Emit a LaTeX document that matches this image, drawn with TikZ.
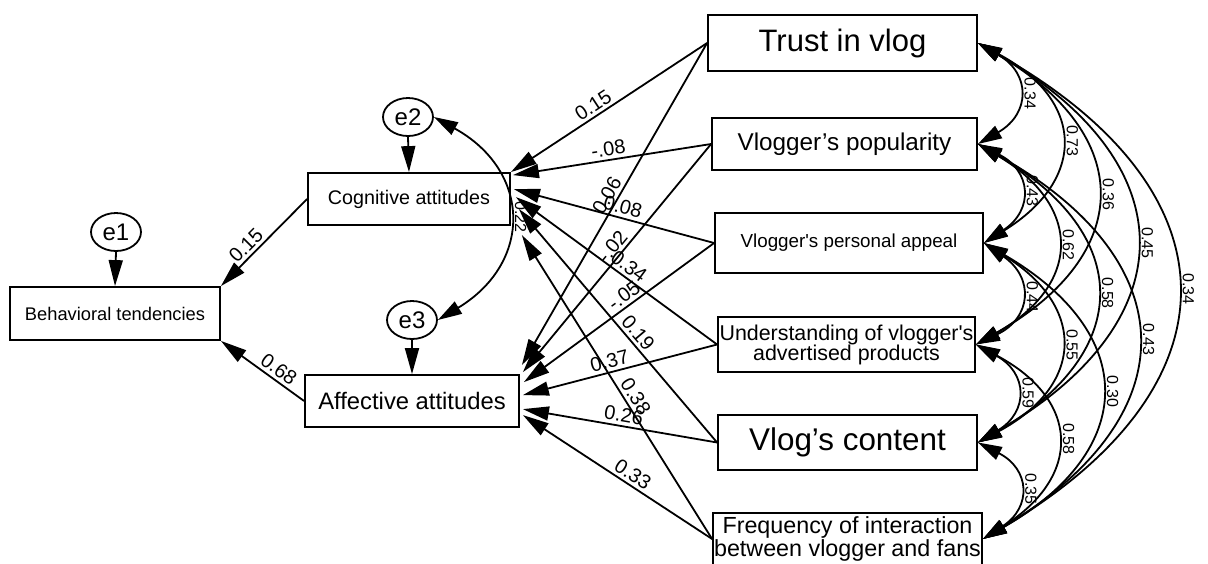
\documentclass[tikz,border=0pt]{standalone}
\usepackage{fontspec}
\setmainfont{Liberation Sans}
\usetikzlibrary{arrows.meta,shapes.geometric}

\tikzset{
  var/.style={draw, line width=1.8pt, rectangle, inner sep=0pt, align=center},
  err/.style={draw, line width=1.8pt, ellipse, inner sep=0pt,
    minimum width=50pt, minimum height=38pt, font=\fontsize{24}{26}\selectfont},
  reg/.style={line width=1.8pt, -{Triangle[length=26pt,width=14pt]}},
  cov/.style={line width=1.8pt,
    {Triangle[length=24pt,width=14pt]}-{Triangle[length=24pt,width=14pt]},
    bend left=60, looseness=1.55},
  coef/.style={font=\fontsize{20}{20}\selectfont, sloped, above, inner sep=3pt},
  rcoef/.style={font=\fontsize{16}{16}\selectfont, rotate=-90, anchor=south,
    inner sep=6pt, midway},
}

\begin{document}
\begin{tikzpicture}[x=1pt, y=-1pt]
  \useasboundingbox (0,0) rectangle (1208,563);

  % endogenous side
  \node[var, minimum width=210pt, minimum height=53pt, font=\fontsize{18.3}{20}\selectfont]
    (beh) at (115,313.5) {Behavioral tendencies};
  \node[var, minimum width=202pt, minimum height=52pt, font=\fontsize{19.7}{21}\selectfont]
    (cog) at (409,199) {Cognitive attitudes};
  \node[var, minimum width=214pt, minimum height=52pt, font=\fontsize{23.8}{25}\selectfont]
    (aff) at (412,401) {Affective attitudes};
  \node[err] (e1) at (116,232) {e1};
  \node[err] (e2) at (408,117) {e2};
  \node[err] (e3) at (412,320) {e3};

  % exogenous side
  \node[var, minimum width=269pt, minimum height=56pt, font=\fontsize{31}{32}\selectfont]
    (trust) at (842.5,43) {Trust in vlog};
  \node[var, minimum width=265pt, minimum height=52pt, font=\fontsize{24.3}{26}\selectfont]
    (pop) at (844.5,144) {Vlogger's popularity};
  \node[var, minimum width=268pt, minimum height=60pt, font=\fontsize{18.8}{20}\selectfont]
    (appeal) at (849,243) {Vlogger\textquotesingle s personal appeal};
  \node[var, minimum width=257pt, minimum height=55pt, font=\fontsize{21.4}{20}\selectfont]
    (underst) at (846.5,344.5) {Understanding of vlogger\textquotesingle s\\advertised products};
  \node[var, minimum width=259pt, minimum height=55pt, font=\fontsize{31.4}{32}\selectfont]
    (content) at (847.5,442.5) {Vlog's content};
  \node[var, minimum width=269pt, minimum height=52pt, font=\fontsize{23.3}{21}\selectfont]
    (freq) at (847.5,539) {Frequency of interaction\\between vlogger and fans};

  % errors
  \draw[reg] (e1.south) -- (beh.north);
  \draw[reg] (e2.south) -- (cog.north);
  \draw[reg] (e3.south) -- (aff.north);
  \draw[cov, looseness=1.4] (e2.east) to node[rcoef] {0.22} (e3.east);

  % attitudes -> behaviour
  \draw[reg] (cog.west) -- (beh.north east) node[coef, pos=0.62] {0.15};
  \draw[reg] (aff.west) -- (beh.south east) node[coef, pos=0.38] {0.68};

  % paths to cognitive
  \draw[reg] (trust.west) -- (cog.north east) node[coef, pos=0.55] {0.15};
  \draw[reg] (pop.west) -- ([shift={(2,3)}]cog.north east) node[coef, pos=0.51] {-.08};
  \draw[reg] (appeal.west) -- ([shift={(3,17)}]cog.north east) node[coef, pos=0.47] {0.08};
  \draw[reg] (underst.west) -- ([shift={(5,25)}]cog.north east) node[coef, pos=0.47] {0.34};
  \draw[reg] (content.west) -- ([shift={(8,37)}]cog.north east) node[coef, pos=0.44] {0.19};
  \draw[reg] (freq.west) -- ([shift={(11,63)}]cog.north east) node[coef, pos=0.45] {0.38};

  % paths to affective
  \draw[reg] (trust.west) -- ([shift={(2,-9)}]aff.north east) node[coef, pos=0.49] {0.06};
  \draw[reg] (pop.west) -- ([shift={(3,-2)}]aff.north east) node[coef, pos=0.48] {-.02};
  \draw[reg] (appeal.west) -- ([shift={(4,8)}]aff.north east) node[coef, pos=0.44] {-.05};
  \draw[reg] (underst.west) -- ([shift={(3,21)}]aff.north east) node[coef, pos=0.54] {0.37};
  \draw[reg] (content.west) -- ([shift={(3,35)}]aff.north east) node[coef, pos=0.49] {0.26};
  \draw[reg] (freq.west) -- ([shift={(3,41)}]aff.north east) node[coef, pos=0.45] {0.33};

  % correlations
  \draw[cov] (trust.east) to node[rcoef] {0.34} (pop.east);
  \draw[cov] (trust.east) to node[rcoef] {0.73} (appeal.east);
  \draw[cov] (trust.east) to node[rcoef] {0.36} (underst.east);
  \draw[cov] (trust.east) to node[rcoef] {0.45} (content.east);
  \draw[cov] (trust.east) to node[rcoef] {0.34} (freq.east);
  \draw[cov] (pop.east) to node[rcoef] {0.43} (appeal.east);
  \draw[cov] (pop.east) to node[rcoef] {0.62} (underst.east);
  \draw[cov] (pop.east) to node[rcoef] {0.58} (content.east);
  \draw[cov] (pop.east) to node[rcoef] {0.43} (freq.east);
  \draw[cov] (appeal.east) to node[rcoef] {0.44} (underst.east);
  \draw[cov] (appeal.east) to node[rcoef] {0.55} (content.east);
  \draw[cov] (appeal.east) to node[rcoef] {0.30} (freq.east);
  \draw[cov] (underst.east) to node[rcoef] {0.59} (content.east);
  \draw[cov] (underst.east) to node[rcoef] {0.58} (freq.east);
  \draw[cov] (content.east) to node[rcoef] {0.35} (freq.east);
\end{tikzpicture}
\end{document}
